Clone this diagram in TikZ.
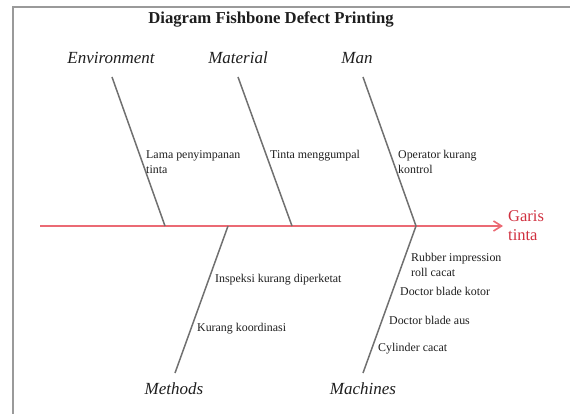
\documentclass[tikz,border=0pt]{standalone}
\usepackage{fontspec}
\setmainfont{Liberation Serif}
\usetikzlibrary{arrows.meta}
\definecolor{boneGray}{HTML}{707070}
\definecolor{frameGray}{HTML}{9A9A9A}
\definecolor{spineRed}{HTML}{EB6A74}
\definecolor{effectRed}{HTML}{D0303F}
\definecolor{textDark}{HTML}{1E1E1E}
\begin{document}
\begin{tikzpicture}[x=1pt,y=-1pt,
  bone/.style={draw=boneGray,line width=1.5pt},
  cat/.style={font=\fontsize{17}{20}\selectfont\itshape,text=textDark,inner sep=0},
  cause/.style={font=\fontsize{11.9}{15}\selectfont,align=left,anchor=west,inner sep=0,text=textDark},
  spine/.style={draw=spineRed,line width=1.6pt,-{Straight Barb[length=8pt,width=10pt]}},
]
\path[use as bounding box] (0,0) rectangle (570,414);
\draw[frameGray,line width=1.3pt] (13,414) -- (13,7) -- (570,7);

\node[font=\fontsize{16.7}{20}\selectfont\bfseries,text=textDark,inner sep=0] (title) at (271,19) {Diagram Fishbone Defect Printing};

% category labels
\node[cat] (env) at (111,58) {Environment};
\node[cat] (mat) at (238,58) {Material};
\node[cat] (man) at (357,58) {Man};
\node[cat] (met) at (174,389) {Methods};
\node[cat] (mac) at (363,389) {Machines};

% bone end points
\coordinate (envTop) at (112,77);
\coordinate (envBot) at (165,226);
\coordinate (matTop) at (238,77);
\coordinate (matBot) at (292,226);
\coordinate (manTop) at (363,77);
\coordinate (manBot) at (416,226);
\coordinate (metTop) at (228,226);
\coordinate (metBot) at (175,373);
\coordinate (macTop) at (416,226);
\coordinate (macBot) at (363,373);

% spine
\coordinate (tail) at (40,226);
\node[font=\fontsize{16.5}{19}\selectfont,text=effectRed,align=left,anchor=west,inner sep=0] (effect) at (508,226) {Garis\\tinta};
\draw[spine] (tail) -- ([xshift=-5pt]effect.west);

% bones
\draw[bone] (envTop) -- (envBot);
\draw[bone] (matTop) -- (matBot);
\draw[bone] (manTop) -- (manBot);
\draw[bone] (metTop) -- (metBot);
\draw[bone] (macTop) -- (macBot);

% causes
\node[cause,anchor=north west] (c1) at (146,150) {Lama penyimpanan\\tinta};
\node[cause] (c2) at (270,156) {Tinta menggumpal};
\node[cause,anchor=north west] (c3) at (398,150) {Operator kurang\\kontrol};
\node[cause] (c4) at (215,280) {Inspeksi kurang diperketat};
\node[cause] (c5) at (197,329) {Kurang koordinasi};
\node[cause,anchor=north west] (c6) at (411,253) {Rubber impression\\roll cacat};
\node[cause] (c7) at (400,291) {Doctor blade kotor};
\node[cause] (c8) at (389,320) {Doctor blade aus};
\node[cause] (c9) at (378,349) {Cylinder cacat};
\end{tikzpicture}
\end{document}
